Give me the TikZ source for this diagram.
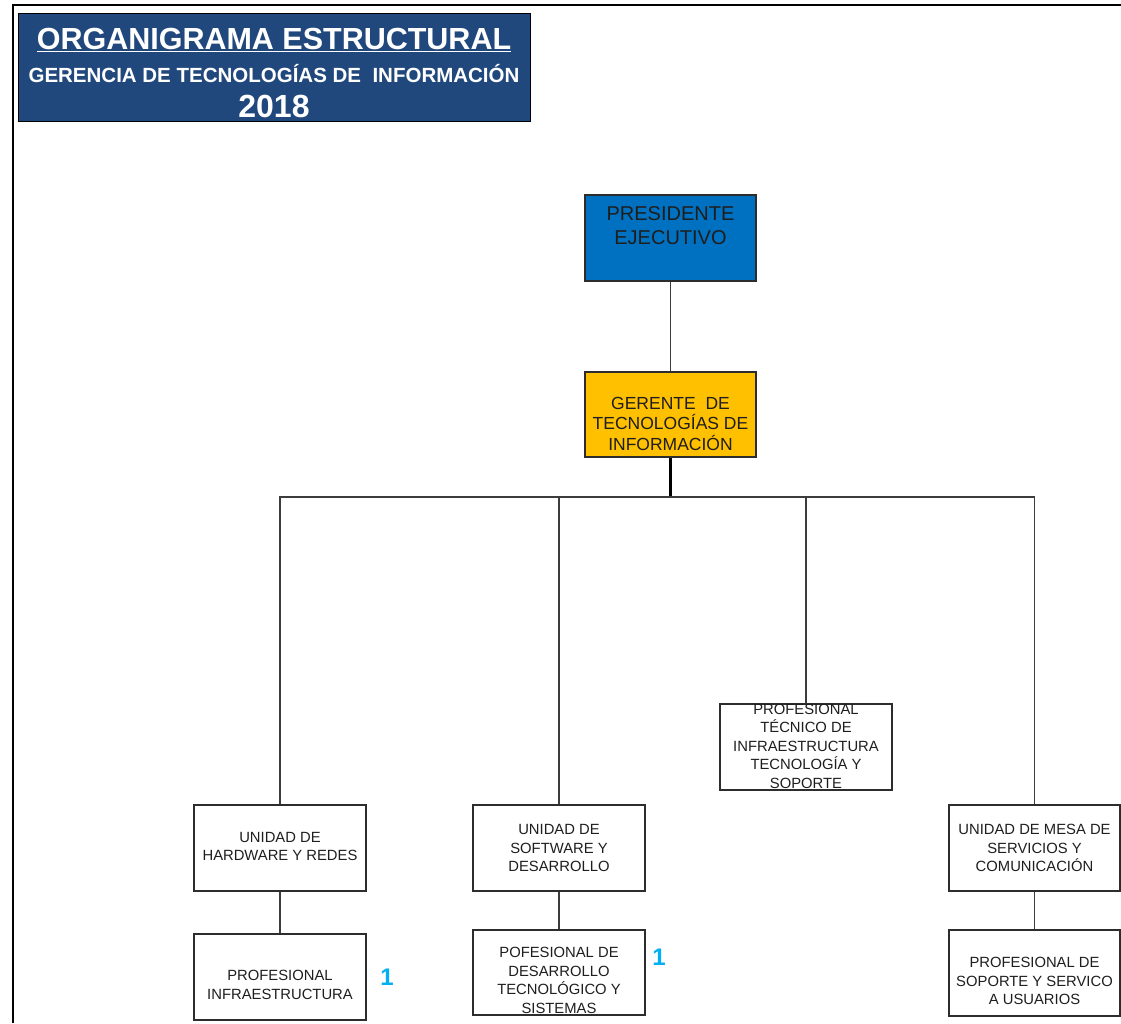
\documentclass[tikz,border=0pt]{standalone}
\usepackage{fontspec}
\setmainfont{Liberation Sans}
\definecolor{titleblue}{RGB}{33,72,125}
\definecolor{presblue}{RGB}{0,112,192}
\definecolor{geryellow}{RGB}{255,192,0}
\definecolor{boxline}{RGB}{45,45,45}
\definecolor{wiregrey}{RGB}{60,60,60}
\definecolor{textgrey}{RGB}{30,30,30}
\definecolor{countblue}{RGB}{0,176,240}
\begin{document}
\begin{tikzpicture}[x=1pt,y=-1pt,
  box/.style={draw=boxline, line width=1.6pt, minimum width=172pt, minimum height=86pt, inner sep=0pt},
  boxtext/.style={align=center, font=\fontsize{14.8}{18.5}\selectfont, text=textgrey, inner sep=0pt},
  toptext/.style={align=center, text=textgrey, inner sep=0pt},
  titletext/.style={text=white, font=\bfseries, inner sep=0pt, anchor=base},
  wire/.style={draw=wiregrey, line width=1.5pt},
  trunk/.style={draw=black, line width=2.2pt},
  count/.style={text=countblue, font=\bfseries\fontsize{24}{24}\selectfont, inner sep=0pt}
]
\useasboundingbox (0,0) rectangle (1121,1023);

% page frame
\draw[line width=1.3pt] (13,1023) -- (13,5) -- (1121,5);

% title block
\node[draw=black, fill=titleblue, line width=1pt, minimum width=512pt, minimum height=108pt, inner sep=0pt] (title) at (274,67) {};
\node[titletext, font=\bfseries\fontsize{30.5}{30.5}\selectfont] (t1) at (274,49) {\underline{ORGANIGRAMA ESTRUCTURAL}};
\node[titletext, font=\bfseries\fontsize{20.5}{20.5}\selectfont] (t2) at (274,82) {GERENCIA DE TECNOLOGÍAS DE \ INFORMACIÓN};
\node[titletext, font=\bfseries\fontsize{32}{32}\selectfont] (t3) at (274,117) {2018};

% top of the hierarchy
\node[box, fill=presblue, minimum width=171pt,
  label={[toptext, font=\fontsize{20}{24}\selectfont, yshift=12.5pt]center:{PRESIDENTE\\EJECUTIVO}}] (pres) at (670.5,238) {};
\node[box, fill=geryellow, minimum width=171pt, minimum height=85pt,
  label={[toptext, font=\fontsize{17.5}{20.5}\selectfont, yshift=-9pt]center:{GERENTE \ DE\\TECNOLOGÍAS DE\\INFORMACIÓN}}] (ger) at (670.5,414.5) {};

% units
\node[box, label={[boxtext, yshift=1.5pt]center:{UNIDAD DE\\HARDWARE Y REDES}}] (hw) at (280,848) {};
\node[box, label={[boxtext]center:{UNIDAD DE\\SOFTWARE Y\\DESARROLLO}}] (sw) at (559,848) {};
\node[box, label={[boxtext, yshift=1pt]center:{PROFESIONAL\\TÉCNICO DE\\INFRAESTRUCTURA\\TECNOLOGÍA Y\\SOPORTE}}] (tec) at (806,747) {};
\node[box, minimum width=171pt, label={[boxtext]center:{UNIDAD DE MESA DE\\SERVICIOS Y\\COMUNICACIÓN}}] (mesa) at (1034.5,848) {};

% professionals
\node[box, label={[boxtext, yshift=-8pt]center:{PROFESIONAL\\INFRAESTRUCTURA}}] (infra) at (280,977) {};
\node[box, minimum height=85pt, label={[boxtext, yshift=-8pt]center:{POFESIONAL DE\\DESARROLLO\\TECNOLÓGICO Y\\SISTEMAS}}] (dev) at (559,972.5) {};
\node[box, minimum width=171pt, label={[boxtext, yshift=-8pt]center:{PROFESIONAL DE\\SOPORTE Y SERVICO\\A USUARIOS}}] (sop) at (1034.5,973) {};

% headcounts
\node[count] (n1) at (387,977) {1};
\node[count] (n2) at (659,957) {1};

% connectors
\coordinate (bus) at (670.5,497);
\draw[wire] (pres) -- (ger);
\draw[trunk] (ger.south) -- (bus);
\draw[wire] (bus) -| (hw.north);
\draw[wire] (bus) -| (sw.north);
\draw[wire] (bus) -| (tec.north);
\draw[wire] (bus) -| (mesa.north);
\draw[wire] (hw) -- (infra);
\draw[wire] (sw) -- (dev);
\draw[wire] (mesa) -- (sop);
\end{tikzpicture}
\end{document}
